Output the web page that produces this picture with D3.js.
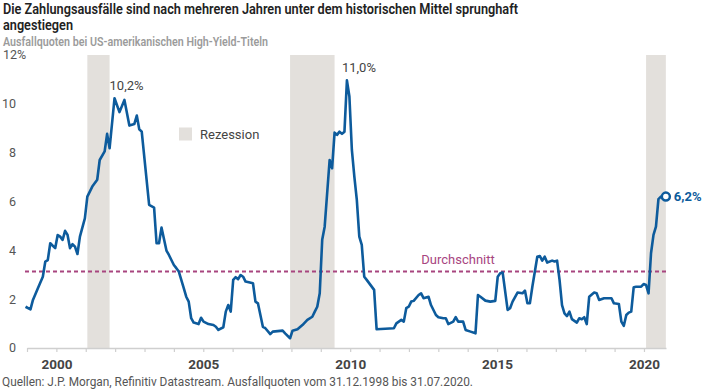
<!DOCTYPE html>
<html>
<head>
<meta charset="utf-8">
<script src="https://cdn.jsdelivr.net/npm/d3@7/dist/d3.min.js"></script>
<style>
  body { margin: 0; background: #fff; }
  text { font-family: Roboto, "Open Sans", sans-serif; }
</style>
</head>
<body>
<script>
var width = 704,
    height = 390;

// monthly default rates (%)
var dates = ["1998-12","1999-02","1999-03","1999-05","1999-07","1999-08","1999-09","1999-10","1999-12",
  "2000-01","2000-02","2000-03","2000-04","2000-05","2000-06","2000-07","2000-08","2000-09","2000-10","2000-12",
  "2001-01","2001-03","2001-05","2001-06","2001-08","2001-09","2001-10","2001-12",
  "2002-02","2002-04","2002-06","2002-08","2002-09","2002-10","2002-11",
  "2003-02","2003-04","2003-05","2003-06","2003-07","2003-09","2003-10","2003-12",
  "2004-01","2004-02","2004-04","2004-05","2004-06","2004-07","2004-08","2004-10","2004-11","2004-12",
  "2005-02","2005-04","2005-05","2005-06","2005-08","2005-09","2005-10","2005-11","2005-12",
  "2006-01","2006-02","2006-03","2006-04","2006-05","2006-08","2006-09","2006-10","2006-12",
  "2007-01","2007-03","2007-04","2007-08","2007-09","2007-11","2007-12",
  "2008-02","2008-04","2008-06","2008-08","2008-09","2008-10","2008-11","2008-12",
  "2009-01","2009-03","2009-04","2009-05","2009-06","2009-07","2009-08","2009-09","2009-10","2009-11","2009-12",
  "2010-01","2010-02","2010-03","2010-04","2010-05","2010-06","2010-09","2010-10",
  "2011-05","2011-06","2011-08","2011-09","2011-10","2011-11","2011-12",
  "2012-01","2012-03","2012-04","2012-05","2012-07","2012-08","2012-10","2012-11",
  "2013-01","2013-02","2013-03","2013-05","2013-06","2013-07","2013-09","2013-10","2013-12",
  "2014-02","2014-03","2014-04","2014-06","2014-08","2014-10","2014-11","2014-12",
  "2015-01","2015-03","2015-04","2015-05","2015-07","2015-09","2015-10","2015-11","2015-12",
  "2016-01","2016-03","2016-04","2016-05","2016-06","2016-07","2016-09","2016-10","2016-11","2016-12",
  "2017-01","2017-02","2017-03","2017-04","2017-05","2017-07","2017-08","2017-09","2017-10","2017-11","2017-12",
  "2018-02","2018-03","2018-04","2018-06","2018-09","2018-10","2018-12",
  "2019-01","2019-02","2019-03","2019-04","2019-05","2019-06","2019-07","2019-09","2019-10","2019-11","2019-12",
  "2020-01","2020-02","2020-03","2020-04","2020-05","2020-06","2020-07"];

var rates = [1.69,1.58,1.97,2.45,2.92,3.54,3.6,4.29,4.09,
  4.63,4.56,4.43,4.8,4.63,4.09,4.25,4.15,3.85,4.56,5.31,
  6.2,6.61,6.89,7.7,8.05,8.77,8.18,10.23,
  9.66,10.16,9.11,9.17,9.52,8.96,8.86,
  5.86,5.75,4.29,4.29,4.93,3.99,3.81,3.4,
  3.27,3.13,2.45,2.1,1.9,1.22,1.04,0.98,1.24,1.08,
  0.98,0.94,0.87,0.74,0.85,1.49,1.76,1.49,2.79,
  2.9,2.82,2.99,2.92,2.72,2.65,1.9,1.83,0.87,
  0.81,0.57,0.67,0.71,0.6,0.4,0.71,
  0.77,0.94,1.15,1.28,1.49,1.69,2.24,4.43,
  4.97,7.7,7.36,8.82,8.73,8.86,8.77,8.86,10.96,10.3,8.11,
  7.02,6.07,4.56,4.22,2.92,2.79,2.38,0.77,
  0.81,1.01,1.15,1.08,1.63,1.69,1.9,
  1.93,2.17,2.24,2.04,2.1,1.76,1.35,1.26,
  1.22,1.22,0.98,1.08,1.26,1.08,1.08,0.74,0.67,
  0.6,2.17,2.1,1.94,1.9,1.93,2.92,3.06,
  3.09,1.56,1.63,1.9,2.27,2.24,2.35,1.83,1.83,
  2.51,3.74,3.77,3.58,3.74,3.5,3.58,3.54,3.58,2.79,
  1.76,1.42,1.31,1.49,1.18,1.04,1.22,1.18,1.26,0.98,2.1,
  2.27,2.24,1.97,2.04,2.04,1.83,1.8,
  1.08,0.91,1.35,1.45,1.49,2.49,2.51,2.51,2.62,2.58,2.24,
  3.88,4.63,4.97,6.1,6.2,6.2,6.2];

var recessions = [["2001-01", "2001-10"], ["2007-11", "2009-05"], ["2019-11", "2020-07"]];
var average = 3.13;
var yTicks = [0, 2, 4, 6, 8, 10, 12];
var years = d3.range(1999, 2021);
var yearLabels = [2000, 2005, 2010, 2015, 2020];
var peaks = [{date: "2001-12", label: "10,2%"}, {date: "2009-10", label: "11,0%"}];
var lastLabel = "6,2%";

var blue = "#0d5b9c",
    plum = "#a8457f",
    bandColor = "#e3e0dc";

var data = dates.map(function(d, i) { return {date: d, v: rates[i]}; });

// months since Dec 1998
function monthIndex(s) {
  var p = s.split("-");
  return (+p[0] - 1998) * 12 + (+p[1]) - 12;
}

var xYear = d3.scaleLinear()
    .domain([1999, 2020.75])
    .range([27, 666]);

var x = d3.scaleLinear()
    .domain([0, monthIndex("2020-07")])
    .range([xYear(1998.95), xYear(2020.745)]);

var y = d3.scaleLinear()
    .domain([0, 12])
    .range([348, 55]);

var svg = d3.select("body").append("svg")
    .attr("width", width)
    .attr("height", height);

// titles
svg.append("text")
    .attr("x", 3).attr("y", 13.5)
    .attr("textLength", 515).attr("lengthAdjust", "spacingAndGlyphs")
    .style("font-size", "14.5px").style("font-weight", 600).style("fill", "#222")
    .text("Die Zahlungsausfälle sind nach mehreren Jahren unter dem historischen Mittel sprunghaft");
svg.append("text")
    .attr("x", 3).attr("y", 30)
    .attr("textLength", 70).attr("lengthAdjust", "spacingAndGlyphs")
    .style("font-size", "14.5px").style("font-weight", 600).style("fill", "#222")
    .text("angestiegen");
svg.append("text")
    .attr("x", 3).attr("y", 45.5)
    .attr("textLength", 265).attr("lengthAdjust", "spacingAndGlyphs")
    .style("font-size", "13px").style("font-weight", 600).style("fill", "#9b9b9b")
    .text("Ausfallquoten bei US-amerikanischen High-Yield-Titeln");

// recession bands
svg.selectAll(".band")
    .data(recessions)
    .enter().append("rect")
    .attr("class", "band")
    .attr("x", function(d) { return x(monthIndex(d[0])); })
    .attr("width", function(d) { return x(monthIndex(d[1])) - x(monthIndex(d[0])); })
    .attr("y", y(12))
    .attr("height", y(0) - y(12))
    .style("fill", bandColor);

// y labels
svg.selectAll(".ylab")
    .data(yTicks)
    .enter().append("text")
    .attr("class", "ylab")
    .attr("x", function(d) { return d === 12 ? 3 : 16; })
    .attr("y", function(d) { return y(d); })
    .attr("dy", "0.35em")
    .attr("text-anchor", function(d) { return d === 12 ? "start" : "end"; })
    .style("font-size", "12.5px")
    .style("fill", "#555")
    .text(function(d) { return d === 12 ? "12%" : d; });

// x axis
var xAxis = d3.axisBottom(xYear)
    .tickValues(years)
    .tickSize(4)
    .tickSizeOuter(0)
    .tickPadding(7)
    .tickFormat(function(d) { return yearLabels.indexOf(d) >= 0 ? d : ""; });

var gx = svg.append("g")
    .attr("transform", "translate(0," + y(0) + ")")
    .call(xAxis);
gx.select(".domain").style("stroke", "#cfcfcf").style("stroke-width", 1.5);
gx.selectAll(".tick line").style("stroke", "#cfcfcf").style("stroke-width", 1.2);
gx.selectAll(".tick text")
    .style("font-family", "Roboto, sans-serif")
    .style("font-size", "13.5px")
    .style("font-weight", 700)
    .style("fill", "#444");

// average line
svg.append("line")
    .attr("x1", 25).attr("x2", 666)
    .attr("y1", y(average)).attr("y2", y(average))
    .style("stroke", plum)
    .style("stroke-width", 2)
    .style("stroke-dasharray", "4,3");
svg.append("text")
    .attr("x", 458).attr("y", y(average) - 8)
    .attr("text-anchor", "middle")
    .style("font-size", "13px")
    .style("fill", plum)
    .text("Durchschnitt");

// default rate line
var line = d3.line()
    .x(function(d) { return x(monthIndex(d.date)); })
    .y(function(d) { return y(d.v); });

svg.append("path")
    .datum(data)
    .attr("d", line)
    .style("fill", "none")
    .style("stroke", blue)
    .style("stroke-width", 2.6)
    .style("stroke-linejoin", "round");

// peak labels
svg.selectAll(".peak")
    .data(peaks)
    .enter().append("text")
    .attr("class", "peak")
    .attr("x", function(d) { return x(monthIndex(d.date)) + 12; })
    .attr("y", function(d) { return y(rates[dates.indexOf(d.date)]) - 8; })
    .attr("text-anchor", "middle")
    .style("font-size", "13px")
    .style("fill", "#444")
    .text(function(d) { return d.label; });

// end point
var last = data[data.length - 1];
svg.append("circle")
    .attr("cx", x(monthIndex(last.date)))
    .attr("cy", y(last.v))
    .attr("r", 4)
    .style("fill", "#fff")
    .style("stroke", blue)
    .style("stroke-width", 2.5);
svg.append("text")
    .attr("x", x(monthIndex(last.date)) + 8)
    .attr("y", y(last.v))
    .attr("dy", "0.35em")
    .style("font-size", "13px")
    .style("font-weight", 700)
    .style("fill", blue)
    .text(lastLabel);

// legend
svg.append("rect")
    .attr("x", 179).attr("y", 127.5)
    .attr("width", 13).attr("height", 13)
    .style("fill", bandColor);
svg.append("text")
    .attr("x", 200).attr("y", 134)
    .attr("dy", "0.35em")
    .style("font-size", "13px")
    .style("fill", "#444")
    .text("Rezession");

// source
svg.append("text")
    .attr("x", 2).attr("y", 386)
    .attr("textLength", 471).attr("lengthAdjust", "spacingAndGlyphs")
    .style("font-size", "12.5px")
    .style("fill", "#555")
    .text("Quellen: J.P. Morgan, Refinitiv Datastream. Ausfallquoten vom 31.12.1998 bis 31.07.2020.");
</script>
</body>
</html>
